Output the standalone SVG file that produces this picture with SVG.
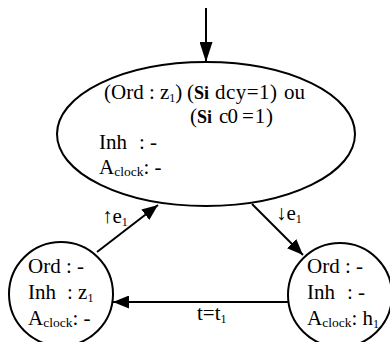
<svg xmlns="http://www.w3.org/2000/svg" width="390" height="342" viewBox="0 0 390 342">
<style>
.s{fill:#fff;stroke:#000;stroke-width:2}
.t{font-family:'Liberation Serif','Times New Roman',serif;font-size:21px;fill:#000}
.c{stroke:#000;stroke-width:2;fill:none}
.b{font-weight:bold;font-size:18px}
.sub{font-size:12px}
.cl{font-size:13.5px}
</style>
<defs>
<marker id="ah" markerWidth="20" markerHeight="13" refX="20" refY="6.5" orient="auto" markerUnits="userSpaceOnUse">
<path d="M0,0 L20,6.5 L0,13 Z" fill="#000"/>
</marker>
<marker id="ah2" markerWidth="16" markerHeight="13" refX="16" refY="6.5" orient="auto" markerUnits="userSpaceOnUse">
<path d="M0,0 L16,6.5 L0,13 Z" fill="#000"/>
</marker>
</defs>
<g id="connectors">
<line class="c" x1="206" y1="8" x2="206" y2="62" marker-end="url(#ah)"/>
<line class="c" x1="97" y1="252" x2="158" y2="205" marker-end="url(#ah2)"/>
<line class="c" x1="252" y1="204" x2="303" y2="255" marker-end="url(#ah2)"/>
<line class="c" x1="288" y1="302" x2="113" y2="302" marker-end="url(#ah2)"/>
<text class="t" x="102" y="223">↑e<tspan class="sub" dy="3">1</tspan></text>
<text class="t" x="276" y="220">↓e<tspan class="sub" dy="3">1</tspan></text>
<text class="t" x="197" y="320">t=t<tspan class="sub" dy="3">1</tspan></text>
</g>
<g id="node-main">
<ellipse class="s" cx="206" cy="134" rx="149" ry="72"/>
<text class="t" y="99"><tspan x="104">(Ord : z</tspan><tspan class="sub" dy="3">1</tspan><tspan dy="-3">)</tspan><tspan x="187">(</tspan><tspan class="b">Si</tspan><tspan x="215" textLength="62">dcy=1)</tspan><tspan x="284" textLength="21">ou</tspan></text>
<text class="t" y="123"><tspan x="190">(</tspan><tspan class="b">Si</tspan><tspan x="219" textLength="19">c0</tspan><tspan x="242" textLength="31">=1)</tspan></text>
<text class="t" y="149"><tspan x="99">Inh</tspan><tspan x="139">: -</tspan></text>
<text class="t" y="174"><tspan x="99">A</tspan><tspan class="cl" dy="2">clock</tspan><tspan dy="-2">: -</tspan></text>
</g>
<g id="node-left">
<circle class="s" cx="61" cy="294" r="52"/>
<text class="t" x="28" y="273">Ord : -</text>
<text class="t" y="299"><tspan x="28">Inh</tspan><tspan x="67">: z</tspan><tspan class="sub" dy="3">1</tspan></text>
<text class="t" x="28" y="325">A<tspan class="cl" dy="2">clock</tspan><tspan dy="-2">: -</tspan></text>
</g>
<g id="node-right">
<circle class="s" cx="340" cy="295" r="52"/>
<text class="t" x="307" y="273">Ord : -</text>
<text class="t" y="299"><tspan x="307">Inh</tspan><tspan x="347">: -</tspan></text>
<text class="t" x="307" y="325">A<tspan class="cl" dy="2">clock</tspan><tspan dy="-2">: h</tspan><tspan class="sub" dy="3">1</tspan></text>
</g>
</svg>
